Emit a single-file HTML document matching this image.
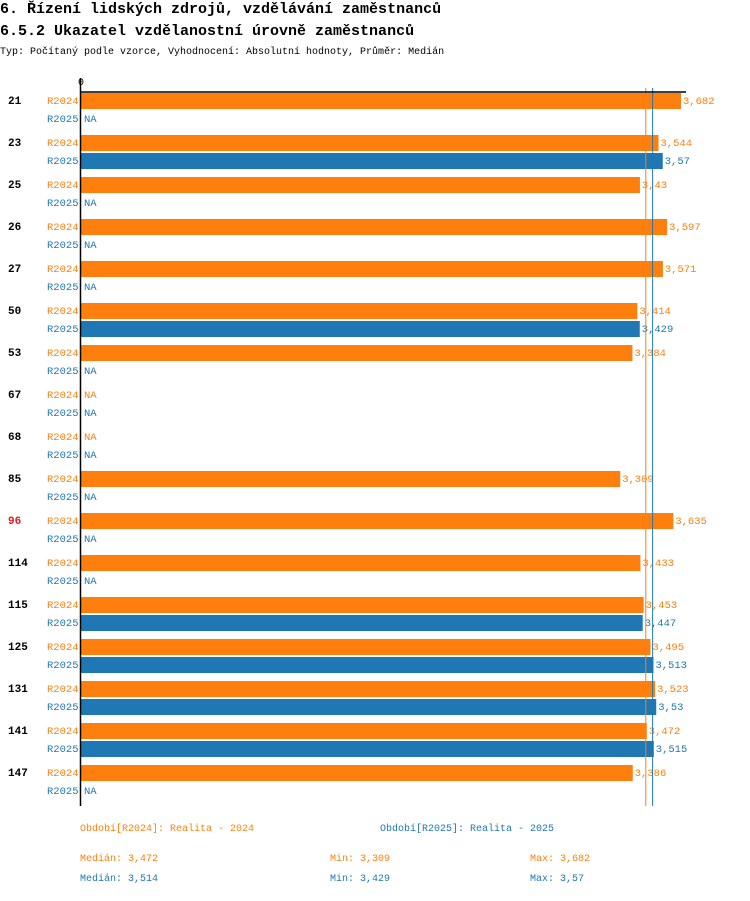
<!DOCTYPE html>
<html><head><meta charset="utf-8"><style>
body{margin:0;background:#fff;width:750px;height:896px;overflow:hidden;font-family:"Liberation Mono",monospace}
svg text{font-family:"Liberation Mono",monospace}
</style></head><body>
<svg id="c" width="750" height="896">
<text x="0" y="13" font-size="15" font-weight="bold">6. Řízení lidských zdrojů, vzdělávání zaměstnanců</text>
<text x="0" y="35" font-size="15" font-weight="bold">6.5.2 Ukazatel vzdělanostní úrovně zaměstnanců</text>
<text x="0" y="54" font-size="10">Typ: Počítaný podle vzorce, Vyhodnocení: Absolutní hodnoty, Průměr: Medián</text>
</svg>
<script>
const groups=["21","23","25","26","27","50","53","67","68","85","96","114","115","125","131","141","147"];
const v2024=[3.682,3.544,3.43,3.597,3.571,3.414,3.384,null,null,3.309,3.635,3.433,3.453,3.495,3.523,3.472,3.386];
const v2025=[null,3.57,null,null,null,3.429,null,null,null,null,null,null,3.447,3.513,3.53,3.515,null];
const highlighted=["96"];
const median2024=3.472, median2025=3.514;
const O="#ff7f0e",B="#1f77b4";
const svg=document.getElementById('c');const NS="http://www.w3.org/2000/svg";
const x0=81,sc=(681-81)/3.682;
const X=v=>x0+v*sc;
function el(t,a,txt){const e=document.createElementNS(NS,t);for(const k in a)e.setAttribute(k,a[k]);if(txt!=null)e.textContent=txt;svg.appendChild(e);return e;}
const fmt=v=>String(v).replace('.',',');
groups.forEach((g,i)=>{
  const y=101+i*42;
  const gl=el('text',{x:8,y:y+3,'font-size':11,'font-weight':'bold',fill:highlighted.includes(g)?'#e31a1c':'#000'},g);
  
  
  [[v2024[i],'R2024',O,y],[v2025[i],'R2025',B,y+18]].forEach(([v,s,c,yy])=>{
    const sl=el('text',{x:47,y:yy+3,'font-size':10.5,fill:c},s);
    
    
    if(v==null){
      const na=el('text',{x:84,y:yy+3,'font-size':10.5,fill:c},'NA');
      
      
    }else{
      const r=el('rect',{x:x0,y:yy-8,width:X(v)-x0,height:16,fill:c});
      
      
      const t=el('text',{x:X(v)+2,y:yy+3,'font-size':10.5,fill:c},fmt(v));
      
      
    }
  });
});
const m1=el('line',{x1:X(median2024)-1,x2:X(median2024)-1,y1:88,y2:806,stroke:O,'stroke-width':1});


const m2=el('line',{x1:X(median2025)-1,x2:X(median2025)-1,y1:88,y2:806,stroke:B,'stroke-width':1});


const ax=el('line',{x1:80,x2:686,y1:92,y2:92,stroke:'#000','stroke-width':1.5});


const ay=el('line',{x1:80.5,x2:80.5,y1:78,y2:806,stroke:'#000','stroke-width':1.5});


const z=el('text',{x:78,y:85,'font-size':10},'0');


const leg=[[80,831,O,'Období[R2024]: Realita - 2024'],[380,831,B,'Období[R2025]: Realita - 2025'],
[80,861,O,'Medián: 3,472'],[330,861,O,'Min: 3,309'],[530,861,O,'Max: 3,682'],
[80,881,B,'Medián: 3,514'],[330,881,B,'Min: 3,429'],[530,881,B,'Max: 3,57']];
leg.forEach(([x,y,c,t])=>{const e=el('text',{x:x,y:y,'font-size':10,fill:c},t);

});
</script>
</body></html>
